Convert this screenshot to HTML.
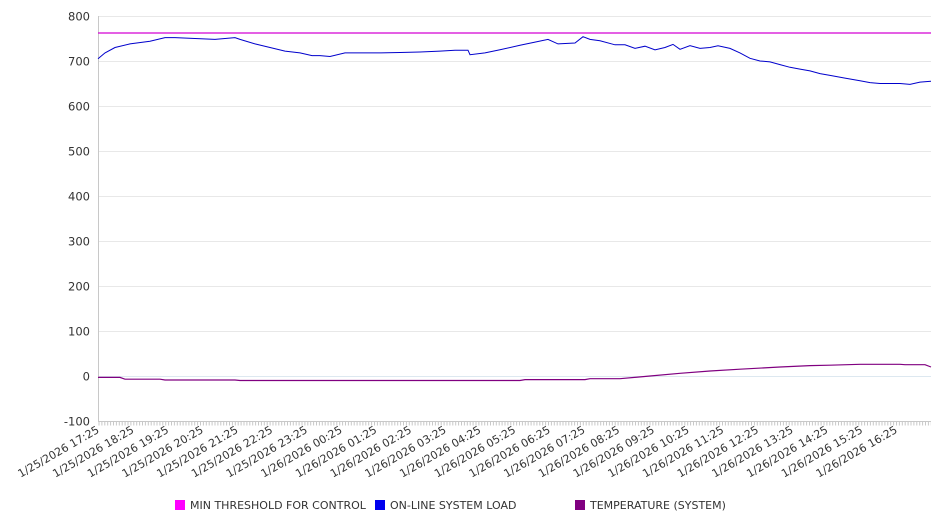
<!DOCTYPE html>
<html><head><meta charset="utf-8"><style>
html,body{margin:0;padding:0;background:#fff;}
svg{display:block;font-family:"DejaVu Sans","Liberation Sans",sans-serif;}
</style></head><body>
<svg width="946" height="526" viewBox="0 0 946 526" xmlns="http://www.w3.org/2000/svg">
<g stroke="#e8e8e8" stroke-width="1">
<line x1="98" y1="16.5" x2="931" y2="16.5"/>
<line x1="98" y1="61.5" x2="931" y2="61.5"/>
<line x1="98" y1="106.5" x2="931" y2="106.5"/>
<line x1="98" y1="151.5" x2="931" y2="151.5"/>
<line x1="98" y1="196.5" x2="931" y2="196.5"/>
<line x1="98" y1="241.5" x2="931" y2="241.5"/>
<line x1="98" y1="286.5" x2="931" y2="286.5"/>
<line x1="98" y1="331.5" x2="931" y2="331.5"/>
<line x1="98" y1="376.5" x2="931" y2="376.5" stroke="#dde8f0"/>
</g>
<line x1="98.5" y1="16" x2="98.5" y2="421" stroke="#c8c8c8"/>
<line x1="98" y1="421.5" x2="931" y2="421.5" stroke="#c8c8c8"/>
<line x1="98.5" y1="423.5" x2="931" y2="423.5" stroke="#c8c8c8" stroke-width="4" stroke-dasharray="1 1.9"/>
<g font-size="11.5" fill="#333" text-anchor="end">
<text x="90" y="20.5">800</text>
<text x="90" y="65.5">700</text>
<text x="90" y="110.5">600</text>
<text x="90" y="155.5">500</text>
<text x="90" y="200.5">400</text>
<text x="90" y="245.5">300</text>
<text x="90" y="290.5">200</text>
<text x="90" y="335.5">100</text>
<text x="90" y="380.5">0</text>
<text x="90" y="425.5">-100</text>
</g>
<g font-size="11" fill="#333" text-anchor="end">
<text transform="translate(100,432) rotate(-30)">1/25/2026 17:25</text>
<text transform="translate(134.7,432) rotate(-30)">1/25/2026 18:25</text>
<text transform="translate(169.4,432) rotate(-30)">1/25/2026 19:25</text>
<text transform="translate(204.1,432) rotate(-30)">1/25/2026 20:25</text>
<text transform="translate(238.8,432) rotate(-30)">1/25/2026 21:25</text>
<text transform="translate(273.5,432) rotate(-30)">1/25/2026 22:25</text>
<text transform="translate(308.2,432) rotate(-30)">1/25/2026 23:25</text>
<text transform="translate(342.9,432) rotate(-30)">1/26/2026 00:25</text>
<text transform="translate(377.6,432) rotate(-30)">1/26/2026 01:25</text>
<text transform="translate(412.3,432) rotate(-30)">1/26/2026 02:25</text>
<text transform="translate(447,432) rotate(-30)">1/26/2026 03:25</text>
<text transform="translate(481.7,432) rotate(-30)">1/26/2026 04:25</text>
<text transform="translate(516.4,432) rotate(-30)">1/26/2026 05:25</text>
<text transform="translate(551.1,432) rotate(-30)">1/26/2026 06:25</text>
<text transform="translate(585.8,432) rotate(-30)">1/26/2026 07:25</text>
<text transform="translate(620.5,432) rotate(-30)">1/26/2026 08:25</text>
<text transform="translate(655.2,432) rotate(-30)">1/26/2026 09:25</text>
<text transform="translate(689.9,432) rotate(-30)">1/26/2026 10:25</text>
<text transform="translate(724.6,432) rotate(-30)">1/26/2026 11:25</text>
<text transform="translate(759.3,432) rotate(-30)">1/26/2026 12:25</text>
<text transform="translate(794,432) rotate(-30)">1/26/2026 13:25</text>
<text transform="translate(828.7,432) rotate(-30)">1/26/2026 14:25</text>
<text transform="translate(863.4,432) rotate(-30)">1/26/2026 15:25</text>
<text transform="translate(898.1,432) rotate(-30)">1/26/2026 16:25</text>
</g>
<line x1="98" y1="33" x2="931" y2="33" stroke="#d400d4" stroke-width="1.2"/>
<polyline fill="none" stroke="#0000cc" stroke-width="1" points="98,58.8 105,52.9 115,47.5 130,43.9 150,41.2 165,37.6 175,37.6 195,38.5 215,39.4 235,37.6 240,39.4 255,43.9 270,47.5 285,51.1 300,52.9 312,55.6 320,55.6 330,56.5 345,52.9 365,52.9 380,52.9 400,52.5 420,52 440,51.1 455,50.2 468,50.2 470,54.7 485,52.9 500,49.8 520,45.3 535,42.1 548,39.4 558,43.9 575,43 583,36.7 590,39.4 600,40.8 615,44.8 625,44.8 635,48.4 645,46.2 655,49.8 665,47.5 673,44.4 680,49.3 690,45.7 700,48.4 710,47.5 718,45.7 730,48.4 740,52.9 750,58.3 760,61 770,61.9 780,64.6 790,67.3 800,69.1 810,70.9 820,73.6 830,75.4 845,78.1 860,80.8 870,82.6 880,83.5 890,83.5 900,83.5 910,84.4 920,82.1 931,81.3"/>
<polyline fill="none" stroke="#800080" stroke-width="1.2" points="98,377.4 120,377.4 125,379.2 160,379.2 165,380 235,380 240,380.5 520,380.5 525,379.6 585,379.6 590,378.7 620,378.7 650,376 680,373.3 710,371 740,369.2 780,367 810,365.6 830,365.2 860,364.3 900,364.3 905,364.7 925,364.7 931,367"/>
<g font-size="11" fill="#333">
<rect x="175" y="500" width="10" height="10" fill="#ff00ff"/>
<text x="190" y="509">MIN THRESHOLD FOR CONTROL</text>
<rect x="375" y="500" width="10" height="10" fill="#0000ee"/>
<text x="390" y="509">ON-LINE SYSTEM LOAD</text>
<rect x="575" y="500" width="10" height="10" fill="#800080"/>
<text x="590" y="509">TEMPERATURE (SYSTEM)</text>
</g>
</svg>
</body></html>
